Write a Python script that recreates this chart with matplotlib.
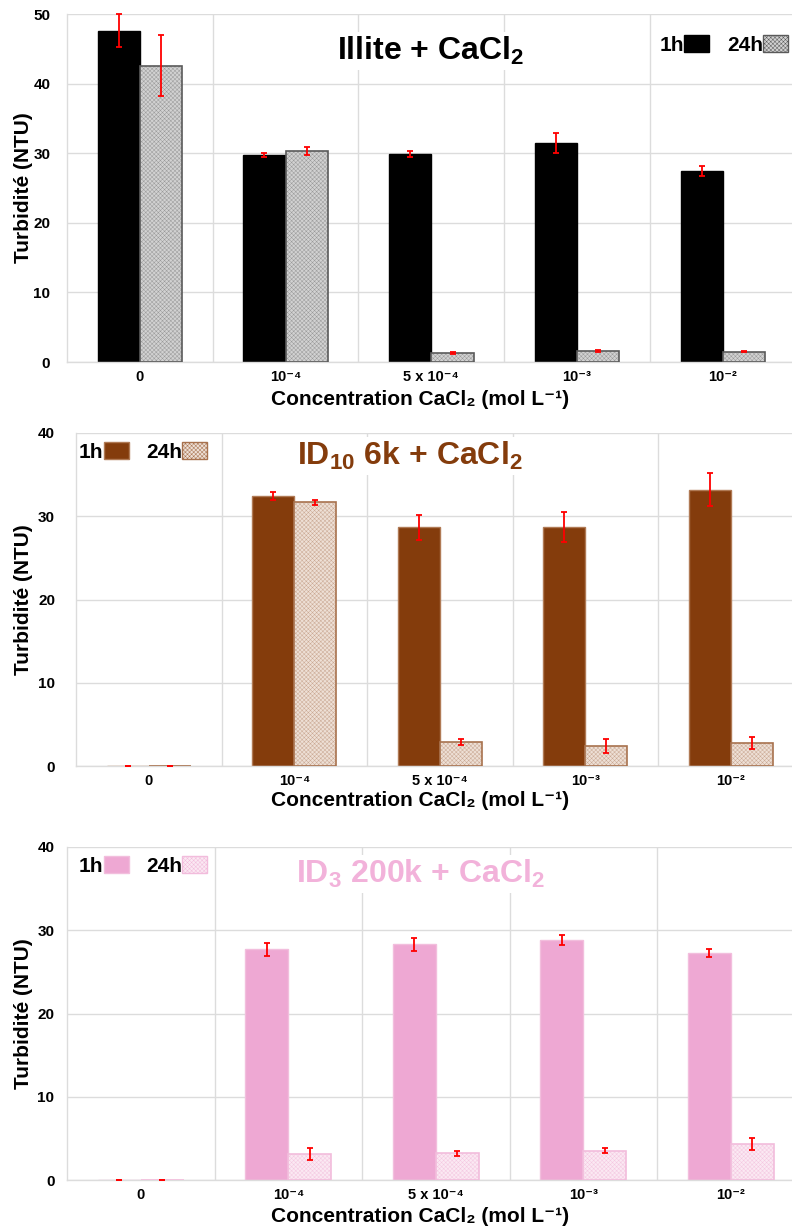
import matplotlib
matplotlib.use("Agg")
import matplotlib.pyplot as plt
from matplotlib.patches import Patch
import numpy as np

plt.rcParams['font.family'] = ['Liberation Sans', 'DejaVu Sans']
plt.rcParams['mathtext.fontset'] = 'custom'
plt.rcParams['mathtext.rm'] = 'Liberation Sans:bold'
plt.rcParams['mathtext.bf'] = 'Liberation Sans:bold'
plt.rcParams['mathtext.default'] = 'bf'
plt.rcParams['hatch.linewidth'] = 0.35

categories = ['0', '10⁻⁴', '5 x 10⁻⁴', '10⁻³', '10⁻²']

# Panel 1: Illite + CaCl2
illite_1h = [47.6, 29.8, 29.9, 31.5, 27.4]
illite_1h_err = [2.4, 0.3, 0.4, 1.4, 0.7]
illite_24h = [42.6, 30.3, 1.3, 1.6, 1.5]
illite_24h_err = [4.4, 0.6, 0.1, 0.1, 0.1]

# Panel 2: ID10 6k + CaCl2
id10_1h = [0, 32.4, 28.7, 28.7, 33.2]
id10_1h_err = [0, 0.5, 1.5, 1.8, 2.0]
id10_24h = [0, 31.7, 2.9, 2.4, 2.8]
id10_24h_err = [0, 0.3, 0.4, 0.8, 0.7]

# Panel 3: ID3 200k + CaCl2
id3_1h = [0, 27.7, 28.3, 28.8, 27.3]
id3_1h_err = [0, 0.8, 0.8, 0.6, 0.5]
id3_24h = [0, 3.1, 3.2, 3.5, 4.3]
id3_24h_err = [0, 0.7, 0.3, 0.3, 0.7]

W, H = 792, 1231
fig = plt.figure(figsize=(W / 100, H / 100), dpi=100)

panels = [
    dict(box=(67, 14, 362, 145.75), ymax=50, ypad=12,
         v1=illite_1h, e1=illite_1h_err, v2=illite_24h, e2=illite_24h_err,
         c1='#000000', ec1='#000000', c2='#d2d2d2', h2='#9a9a9a', ec2='#5a5a5a',
         title='Illite + CaCl$_2$', tcol='#000000', tpos=(431, 60),
         leg=(660, 45), xlab_top=390),
    dict(box=(76, 433, 766, 145.5), ymax=40, ypad=15,
         v1=id10_1h, e1=id10_1h_err, v2=id10_24h, e2=id10_24h_err,
         c1='#843c0c', ec1='#b07a55', c2='#eee0d6', h2='#caa994', ec2='#a8724e',
         title='ID$_{10}$ 6k + CaCl$_2$', tcol='#843c0c', tpos=(410, 465),
         leg=(79, 452), xlab_top=791),
    dict(box=(67, 847, 1180, 147.5), ymax=40, ypad=9,
         v1=id3_1h, e1=id3_1h_err, v2=id3_24h, e2=id3_24h_err,
         c1='#eea8d3', ec1='#f2bedd', c2='#fbe9f3', h2='#f4c8e1', ec2='#f2bcdc',
         title='ID$_3$ 200k + CaCl$_2$', tcol='#f2b2da', tpos=(420, 883),
         leg=(79, 866), xlab_top=1207),
]

x = np.arange(len(categories))
bw = 0.29
grid_col = '#dcdcdc'
hatch = 'xxxxxxxx'

for p in panels:
    left, top, bottom, sp = p['box']
    width_px = 5 * sp
    height_px = bottom - top
    ax = fig.add_axes([left / W, 1 - bottom / H, width_px / W, height_px / H])
    ax.set_xlim(-0.5, 4.5)
    ax.set_ylim(0, p['ymax'])
    ax.set_yticks(np.arange(0, p['ymax'] + 1, 10))
    ax.set_xticks(x)
    ax.set_xticklabels(categories)
    ax.set_xticks(np.arange(0.5, 4.6, 1.0), minor=True)
    ax.grid(True, axis='y', color=grid_col, linewidth=1)
    ax.grid(True, axis='x', which='minor', color=grid_col, linewidth=1)
    ax.grid(False, axis='x', which='major')
    ax.set_axisbelow(True)
    for s in ['top', 'right']:
        ax.spines[s].set_visible(False)
    for s in ['left', 'bottom']:
        ax.spines[s].set_color(grid_col)
        ax.spines[s].set_linewidth(1)
    ax.tick_params(axis='both', which='both', length=0)
    ax.tick_params(axis='y', pad=p['ypad'])
    ax.tick_params(axis='x', pad=6)
    for lab in ax.get_yticklabels():
        lab.set_fontweight('bold'); lab.set_fontsize(11)
    for lab in ax.get_xticklabels():
        lab.set_fontweight('bold'); lab.set_fontsize(10.5)

    # 1h bars
    ax.bar(x - bw / 2, p['v1'], bw, color=p['c1'], edgecolor=p['ec1'], linewidth=1, zorder=2)
    # 24h bars: hatched fill layer, then outline
    ax.bar(x + bw / 2, p['v2'], bw, color=p['c2'], edgecolor=p['h2'], hatch=hatch, linewidth=0, zorder=2)
    ax.bar(x + bw / 2, p['v2'], bw, fill=False, edgecolor=p['ec2'], linewidth=1.2, zorder=3)
    for xs, vals, errs in ((x - bw / 2, p['v1'], p['e1']), (x + bw / 2, p['v2'], p['e2'])):
        eb = ax.errorbar(xs, vals, yerr=errs, fmt='none', ecolor='#ff0000', elinewidth=1.3,
                         capsize=2, capthick=1.3, zorder=4)
        for art in eb.get_children():
            art.set_clip_on(False)

    ax.set_ylabel('Turbidité (NTU)', fontsize=15, fontweight='bold')
    ax.yaxis.set_label_coords((33 - left) / width_px, 0.5)
    ax.set_xlabel('Concentration CaCl₂ (mol L⁻¹)', fontsize=15, fontweight='bold')
    ax.xaxis.set_label_coords((420 - left) / width_px, -(p['xlab_top'] - bottom) / height_px)

    tx, ty = p['tpos']
    fig.text(tx / W, 1 - ty / H, p['title'], color=p['tcol'], fontsize=23, fontweight='bold',
             ha='center', va='baseline',
             bbox=dict(facecolor='white', edgecolor='none', pad=2), zorder=5)

    # legend: label followed by swatch
    handles = [Patch(facecolor=p['c1'], edgecolor=p['ec1']),
               Patch(facecolor=p['c2'], edgecolor=p['ec2'], hatch=hatch)]
    lx, ly = p['leg']
    ax.legend(handles, ['1h', '24h'], ncol=2, markerfirst=False, frameon=False,
              loc='center left',
              bbox_to_anchor=((lx - left) / width_px, 1 - (ly - top) / height_px),
              handlelength=1.2, handleheight=0.85, handletextpad=0.0, columnspacing=0.85,
              borderpad=0, borderaxespad=0,
              prop={'weight': 'bold', 'size': 15})

fig.savefig('out.png', dpi=100)
